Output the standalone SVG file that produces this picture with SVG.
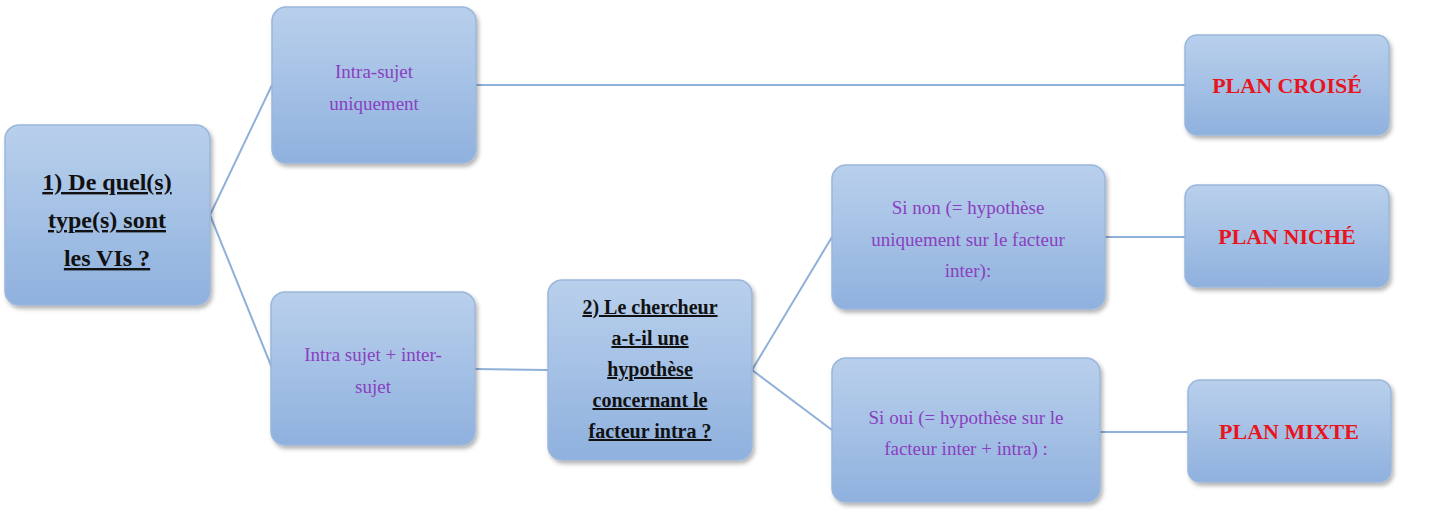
<svg xmlns="http://www.w3.org/2000/svg" width="1440" height="529" viewBox="0 0 1440 529">
<defs>
<linearGradient id="g" x1="0" y1="0" x2="0" y2="1"><stop offset="0" stop-color="#b9d0ec"/><stop offset="1" stop-color="#8fb1de"/></linearGradient>
<filter id="sh" x="-10%" y="-10%" width="130%" height="130%"><feDropShadow dx="2" dy="3" stdDeviation="2" flood-color="#000" flood-opacity="0.3"/></filter>
</defs>
<style>
.box{fill:url(#g);stroke:#9ab6dc;stroke-width:1.5;filter:url(#sh)}
.q{font-family:"Liberation Serif",serif;font-weight:bold;text-decoration:underline;fill:#111;text-anchor:middle}
.p{font-family:"Liberation Serif",serif;fill:#8a3fc0;font-size:19px;text-anchor:middle}
.r{font-family:"Liberation Serif",serif;font-weight:bold;fill:#e8141e;font-size:22px;text-anchor:middle}
.c{stroke:#8fb0d8;stroke-width:2;fill:none}
</style>
<rect width="1440" height="529" fill="#fff"/>
<g id="connectors">
<line class="c" x1="210" y1="215" x2="272" y2="85"/>
<line class="c" x1="210" y1="215" x2="272" y2="368"/>
<line class="c" x1="476" y1="85" x2="1185" y2="85"/>
<line class="c" x1="475" y1="369" x2="548" y2="370"/>
<line class="c" x1="752" y1="370" x2="832" y2="237"/>
<line class="c" x1="752" y1="370" x2="832" y2="430"/>
<line class="c" x1="1105" y1="237" x2="1185" y2="237"/>
<line class="c" x1="1100" y1="432" x2="1188" y2="432"/>
</g>
<g id="n1"><rect class="box" x="5" y="125" width="205" height="180" rx="14"/>
<text class="q" font-size="24"><tspan x="107" y="190">1) De quel(s)</tspan><tspan x="107" y="228">type(s) sont</tspan><tspan x="107" y="266">les VIs ?</tspan></text></g>
<g id="n2"><rect class="box" x="272" y="7" width="204" height="156" rx="14"/>
<text class="p"><tspan x="374" y="78">Intra-sujet</tspan><tspan x="374" y="110">uniquement</tspan></text></g>
<g id="n3"><rect class="box" x="271" y="292" width="204" height="153" rx="14"/>
<text class="p"><tspan x="373" y="361">Intra sujet + inter-</tspan><tspan x="373" y="393">sujet</tspan></text></g>
<g id="n4"><rect class="box" x="548" y="280" width="204" height="180" rx="14"/>
<text class="q" font-size="20"><tspan x="650" y="314">2) Le chercheur</tspan><tspan x="650" y="345">a-t-il une</tspan><tspan x="650" y="376">hypothèse</tspan><tspan x="650" y="407">concernant le</tspan><tspan x="650" y="438">facteur intra ?</tspan></text></g>
<g id="n5"><rect class="box" x="832" y="165" width="273" height="144" rx="14"/>
<text class="p"><tspan x="968" y="214">Si non (= hypothèse</tspan><tspan x="968" y="246">uniquement sur le facteur</tspan><tspan x="968" y="277">inter):</tspan></text></g>
<g id="n6"><rect class="box" x="832" y="358" width="268" height="144" rx="14"/>
<text class="p"><tspan x="966" y="424">Si oui (= hypothèse sur le</tspan><tspan x="966" y="455">facteur inter + intra) :</tspan></text></g>
<g id="n7"><rect class="box" x="1185" y="35" width="204" height="100" rx="12"/>
<text class="r" x="1287" y="93">PLAN CROISÉ</text></g>
<g id="n8"><rect class="box" x="1185" y="185" width="204" height="102" rx="12"/>
<text class="r" x="1287" y="244">PLAN NICHÉ</text></g>
<g id="n9"><rect class="box" x="1188" y="380" width="203" height="102" rx="12"/>
<text class="r" x="1289" y="439">PLAN MIXTE</text></g>
</svg>
